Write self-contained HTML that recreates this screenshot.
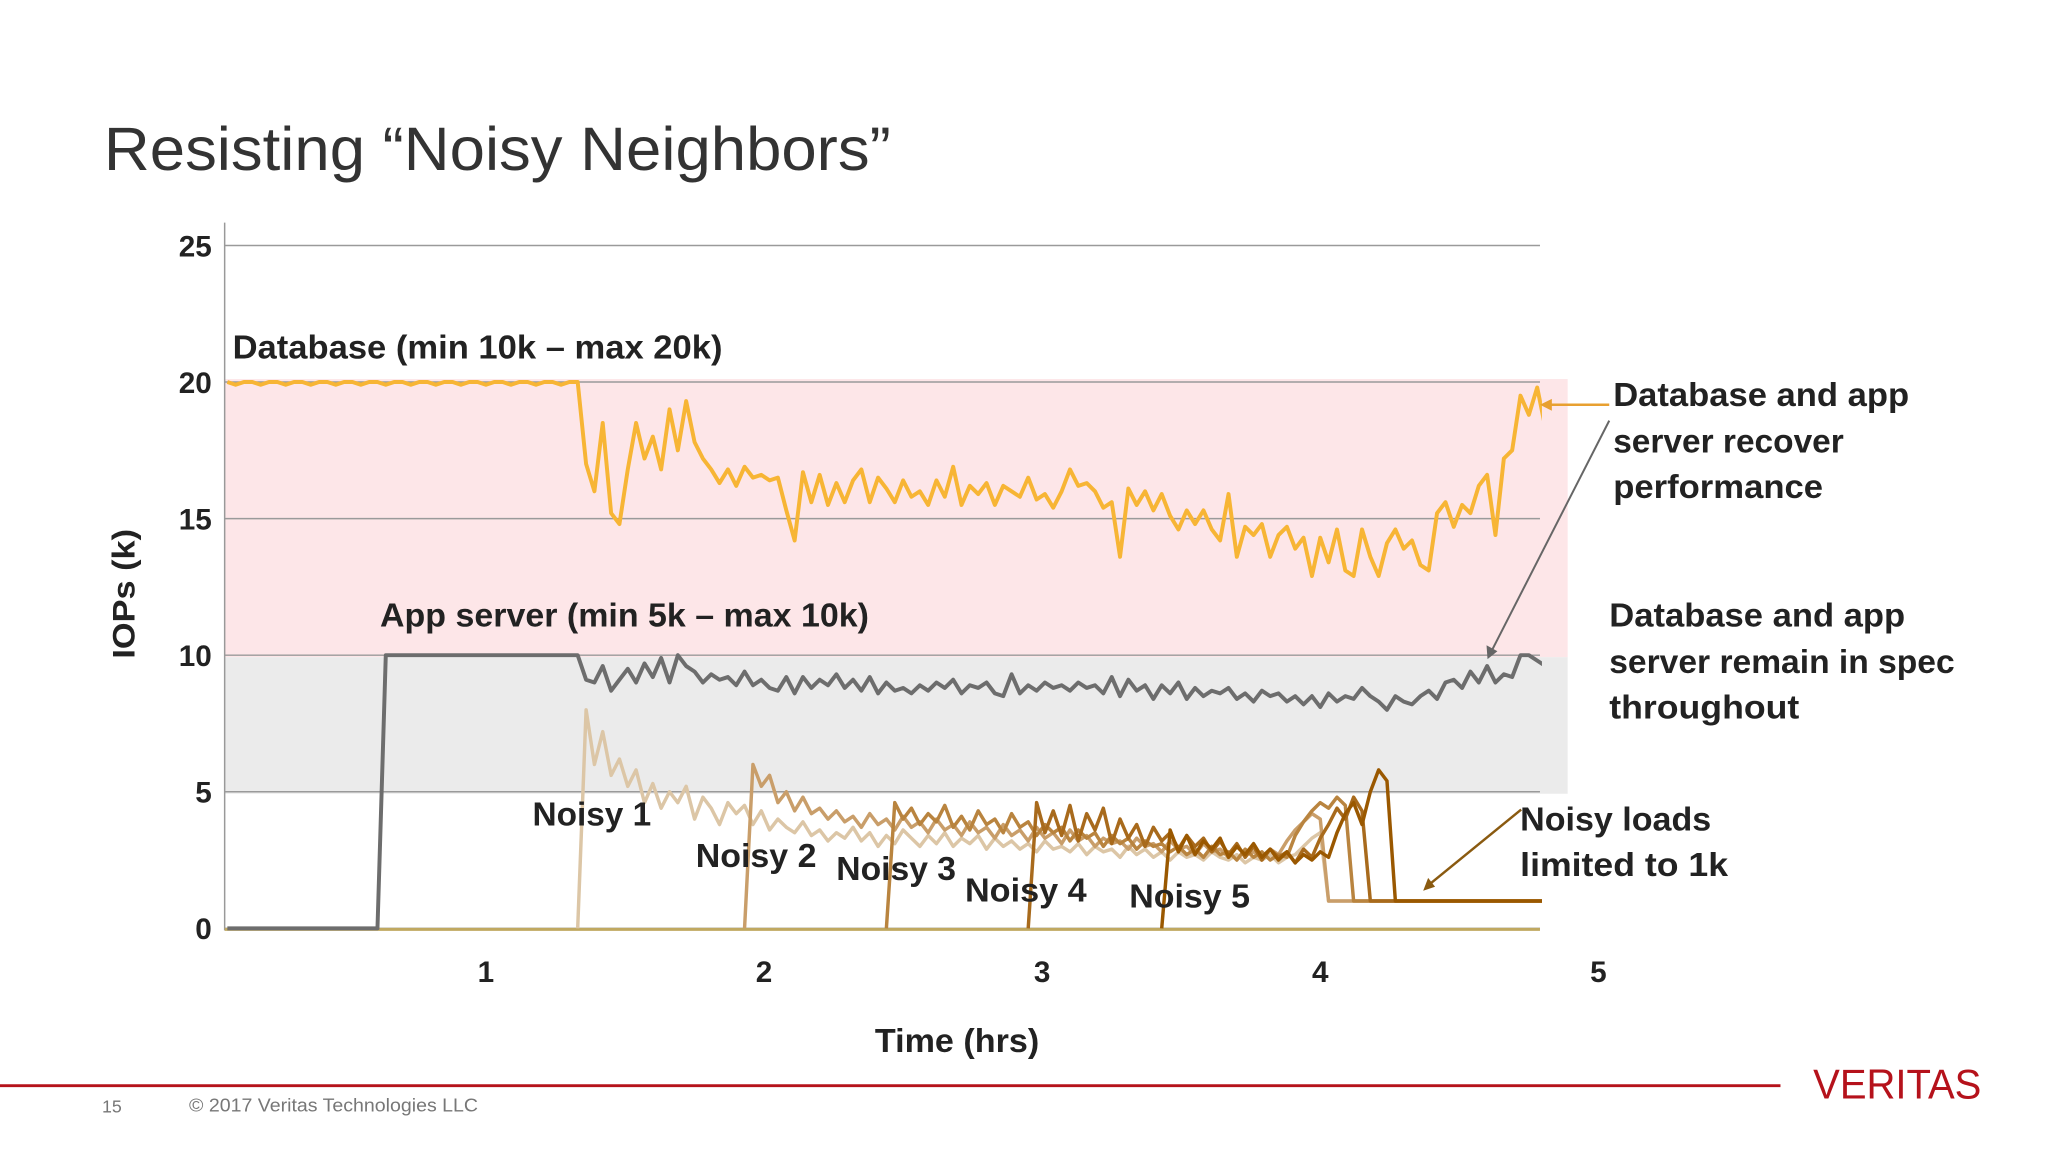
<!DOCTYPE html>
<html><head><meta charset="utf-8"><style>
html,body{margin:0;padding:0;background:#fff;}
svg{display:block;font-family:"Liberation Sans",sans-serif;}
</style></head><body>
<svg id="chart" width="2048" height="1152" viewBox="0 0 2048 1152" xmlns="http://www.w3.org/2000/svg">
<g transform="scale(0.9897)">
<text x="105" y="172" font-size="62" fill="#333" textLength="795" lengthAdjust="spacingAndGlyphs">Resisting “Noisy Neighbors”</text>
<rect x="227" y="383" width="1357" height="281" fill="#fde6e8"/>
<rect x="227" y="664" width="1357" height="138" fill="#ebebeb"/>
<g id="grid"></g>
<line x1="227" y1="225" x2="227" y2="940" stroke="#999" stroke-width="1.5"/>
<g id="yticks"></g>
<g id="xticks"></g>
<defs><clipPath id="plotclip"><rect x="227" y="200" width="1331" height="750"/></clipPath></defs>
<g id="series" clip-path="url(#plotclip)"></g>
<text transform="translate(136,600) rotate(-90)" text-anchor="middle" font-size="32" font-weight="bold" fill="#222" textLength="131" lengthAdjust="spacingAndGlyphs">IOPs (k)</text>
<text x="884" y="1063" font-size="34" font-weight="bold" fill="#222" textLength="166" lengthAdjust="spacingAndGlyphs">Time (hrs)</text>
<g font-size="34" font-weight="bold" fill="#222">
<text x="235" y="362" textLength="495" lengthAdjust="spacingAndGlyphs">Database (min 10k – max 20k)</text>
<text x="384" y="633" textLength="494" lengthAdjust="spacingAndGlyphs">App server (min 5k – max 10k)</text>
<text x="538" y="834" textLength="120" lengthAdjust="spacingAndGlyphs">Noisy 1</text>
<text x="703" y="876" textLength="122" lengthAdjust="spacingAndGlyphs">Noisy 2</text>
<text x="845" y="889" textLength="121" lengthAdjust="spacingAndGlyphs">Noisy 3</text>
<text x="975" y="911" textLength="123" lengthAdjust="spacingAndGlyphs">Noisy 4</text>
<text x="1141" y="917" textLength="122" lengthAdjust="spacingAndGlyphs">Noisy 5</text>
<text x="1630" y="410" textLength="299" lengthAdjust="spacingAndGlyphs">Database and app</text>
<text x="1630" y="457" textLength="233" lengthAdjust="spacingAndGlyphs">server recover</text>
<text x="1630" y="503" textLength="212" lengthAdjust="spacingAndGlyphs">performance</text>
<text x="1626" y="633" textLength="299" lengthAdjust="spacingAndGlyphs">Database and app</text>
<text x="1626" y="680" textLength="349" lengthAdjust="spacingAndGlyphs">server remain in spec</text>
<text x="1626" y="726" textLength="192" lengthAdjust="spacingAndGlyphs">throughout</text>
<text x="1536" y="839" textLength="193" lengthAdjust="spacingAndGlyphs">Noisy loads</text>
<text x="1536" y="885" textLength="210" lengthAdjust="spacingAndGlyphs">limited to 1k</text>
</g>
<g>
<line x1="1626" y1="409" x2="1566" y2="409" stroke="#e8a030" stroke-width="2.5"/>
<polygon points="1556,409 1568,403 1568,415" fill="#e8a030"/>
</g>
<g>
<line x1="1626" y1="425" x2="1508" y2="656" stroke="#666" stroke-width="2"/>
<polygon points="1503,666 1502,652 1513,658" fill="#666"/>
</g>
<g>
<line x1="1537" y1="818" x2="1445" y2="893" stroke="#8a5a10" stroke-width="2.5"/>
<polygon points="1438,900 1443,887 1450,896" fill="#8a5a10"/>
</g>
<line x1="0" y1="1097" x2="1799" y2="1097" stroke="#b5121b" stroke-width="3"/>
<text x="103" y="1124" font-size="18" fill="#777">15</text>
<text x="191" y="1123" font-size="19" fill="#777" textLength="292" lengthAdjust="spacingAndGlyphs">© 2017 Veritas Technologies LLC</text>
<text x="1832" y="1110" font-size="42" fill="#b5121b" textLength="170" lengthAdjust="spacingAndGlyphs">VERITAS</text>
</g>
</svg>
<script>
const yTicks=[0,5,10,15,20,25];
const xTicks=[1,2,3,4,5];
const tStart=0.07, tStep=0.03, tEnd=4.82;
const database=[20,19.9,20,20,19.9,20,20,19.9,20,20,19.9,20,20,19.9,20,20,19.9,20,20,19.9,20,20,19.9,20,20,19.9,20,20,19.9,20,20,19.9,20,20,19.9,20,20,19.9,20,20,19.9,20,
20,17,16,18.5,15.2,14.8,16.8,18.5,17.2,18,16.8,19,17.5,19.3,17.8,17.2,16.8,16.3,16.8,16.2,16.9,16.5,16.6,16.4,16.5,15.3,14.2,16.7,15.6,16.6,15.5,16.3,15.6,16.4,16.8,15.6,16.5,16.1,15.6,16.4,15.8,16,15.5,16.4,15.8,16.9,15.5,16.2,15.9,16.3,15.5,16.2,16,15.8,16.5,15.7,15.9,15.4,16,16.8,16.2,16.3,16,15.4,15.6,13.6,16.1,15.5,16,15.3,15.9,15.1,14.6,15.3,14.8,15.3,14.6,14.2,15.9,13.6,14.7,14.4,14.8,13.6,14.4,14.7,13.9,14.3,12.9,14.3,13.4,14.6,13.1,12.9,14.6,13.6,12.9,14.1,14.6,13.9,14.2,13.3,13.1,15.2,15.6,14.7,15.5,15.2,16.2,16.6,14.4,17.2,17.5,19.5,18.8,19.8,18.3];
const appServer=[0,0,0,0,0,0,0,0,0,0,0,0,0,0,0,0,0,0,0,10,10,10,10,10,10,10,10,10,10,10,10,10,10,10,10,10,10,10,10,10,10,10,
10,9.1,9.0,9.6,8.7,9.1,9.5,9.0,9.7,9.2,9.9,9.0,10.0,9.6,9.4,9.0,9.3,9.1,9.2,8.9,9.4,8.9,9.1,8.8,8.7,9.2,8.6,9.2,8.8,9.1,8.9,9.3,8.8,9.1,8.7,9.2,8.6,9.0,8.7,8.8,8.6,8.9,8.7,9.0,8.8,9.1,8.6,8.9,8.8,9.0,8.6,8.5,9.3,8.6,8.9,8.7,9.0,8.8,8.9,8.7,9.0,8.8,8.9,8.6,9.2,8.5,9.1,8.7,8.9,8.4,8.9,8.6,9.0,8.4,8.8,8.5,8.7,8.6,8.8,8.4,8.6,8.3,8.7,8.5,8.6,8.3,8.5,8.2,8.5,8.1,8.6,8.3,8.5,8.4,8.8,8.5,8.3,8.0,8.5,8.3,8.2,8.5,8.7,8.4,9.0,9.1,8.8,9.4,9.0,9.6,9.0,9.3,9.2,10.0,10.0,9.8,9.6];
const noisyStarts=[42,62,79,96,112];
const noisy1=[0,8.0,6.0,7.2,5.6,6.2,5.2,5.8,4.6,5.3,4.4,5.0,4.6,5.2,4.0,4.8,4.4,3.8,4.6,4.2,4.5,3.8,4.3,3.6,4.0,3.7,3.5,3.9,3.4,3.6,3.2,3.5,3.3,3.7,3.2,3.5,3.0,3.4,3.1,3.6,3.3,3.0,3.4,3.1,3.5,3.0,3.3,3.1,3.4,2.9,3.3,3.0,3.2,2.9,3.1,2.8,3.2,2.9,3.0,2.8,3.1,2.7,3.0,2.8,2.9,2.6,3.0,2.7,2.9,2.6,2.8,2.5,2.8,2.6,2.7,2.5,2.8,2.6,2.5,2.7,2.4,2.6,2.5,2.7,2.4,2.6,2.7,3.0,3.3,3.5,1.0];
const noisy2=[0,6.0,5.2,5.6,4.6,5.0,4.3,4.8,4.2,4.4,4.0,4.3,3.9,4.1,3.7,4.2,3.8,4.0,3.6,4.1,3.7,3.9,3.5,4.0,3.6,3.8,3.4,3.9,3.5,3.7,3.3,3.8,3.4,3.6,3.2,3.7,3.3,3.5,3.1,3.6,3.2,3.4,3.0,3.3,3.1,3.2,2.9,3.3,3.0,3.1,2.8,3.2,2.9,3.0,2.7,3.1,2.8,2.9,2.6,3.0,2.7,2.8,2.6,2.9,2.7,3.2,3.6,3.9,4.2,4.0,1.0];
const noisy3=[0,4.6,4.0,4.4,3.8,4.2,3.9,4.5,3.7,4.1,3.6,4.3,3.8,4.0,3.5,4.2,3.7,3.9,3.4,3.8,3.5,3.7,3.2,3.6,3.3,3.5,3.0,3.4,3.1,3.3,2.9,3.2,3.0,3.1,2.8,3.0,2.7,2.9,2.6,3.0,2.7,2.8,2.5,2.9,2.6,2.8,2.5,2.7,2.6,3.4,3.9,4.3,4.6,4.4,4.8,4.5,1.0];
const noisy4=[0,4.6,3.5,4.3,3.4,4.5,3.2,4.2,3.6,4.4,3.1,4.0,3.3,3.8,3.0,3.7,3.2,3.5,2.9,3.4,3.0,3.3,2.8,3.2,2.7,3.1,2.6,3.0,2.5,2.9,2.6,2.8,2.4,2.9,2.6,3.3,3.8,4.4,4.0,4.8,4.3,1.0];
const noisy5=[0,3.6,2.8,3.4,2.7,3.2,2.9,3.3,2.6,3.0,2.7,3.1,2.6,2.9,2.5,2.8,2.4,2.7,2.5,2.8,2.6,3.5,4.2,4.6,3.8,5.0,5.8,5.4,1.0];

const NS='http://www.w3.org/2000/svg';
const X0=227, X1=1556;
function xScale(t){return 210+281*t;}
function yScale(v){return 938-27.6*v;}
function mk(tag,attrs,parent){const e=document.createElementNS(NS,tag);for(const k in attrs)e.setAttribute(k,attrs[k]);parent.appendChild(e);return e;}
const grid=document.getElementById('grid'), yt=document.getElementById('yticks'), xt=document.getElementById('xticks'), ser=document.getElementById('series');
yTicks.forEach(v=>{
  const l=mk('line',{x1:X0,x2:X1,y1:yScale(v),y2:yScale(v),stroke:'#9a9a9a','stroke-width':1.5},grid);
  
  
  const t=mk('text',{x:214,y:yScale(v)+11,'text-anchor':'end','font-size':30,'font-weight':'bold',fill:'#222'},yt);
  t.textContent=v;
  
  
});
xTicks.forEach(v=>{
  const t=mk('text',{x:xScale(v),y:992,'text-anchor':'middle','font-size':30,'font-weight':'bold',fill:'#222'},xt);
  t.textContent=v;
  
  
});
function pathFor(vals,startIdx){
  let d='M';
  vals.forEach((v,i)=>{const t=tStart+(startIdx+i)*tStep;d+=(i?'L':'')+xScale(t).toFixed(1)+','+yScale(v).toFixed(1);});
  d+='L'+xScale(tEnd).toFixed(1)+','+yScale(vals[vals.length-1]).toFixed(1);
  return d;
}
const noisyColors=['#dcc6a6','#c99e6a','#b9843f','#a86a1c','#9a5800'];
const noisySets=[noisy1,noisy2,noisy3,noisy4,noisy5];
const base=mk('line',{x1:X0,x2:X1,y1:yScale(0)+1,y2:yScale(0)+1,stroke:'#c0a860','stroke-width':3},ser);


noisySets.forEach((vals,k)=>{
  const p=mk('path',{d:pathFor(vals,noisyStarts[k]),fill:'none',stroke:noisyColors[k],'stroke-width':3.5,'stroke-linejoin':'round'},ser);
  
  
});
const ap=mk('path',{d:pathFor(appServer,0),fill:'none',stroke:'#6d6d6d','stroke-width':4,'stroke-linejoin':'round'},ser);


const dp=mk('path',{d:pathFor(database,0),fill:'none',stroke:'#f7b535','stroke-width':4,'stroke-linejoin':'round'},ser);


</script>
</body></html>
